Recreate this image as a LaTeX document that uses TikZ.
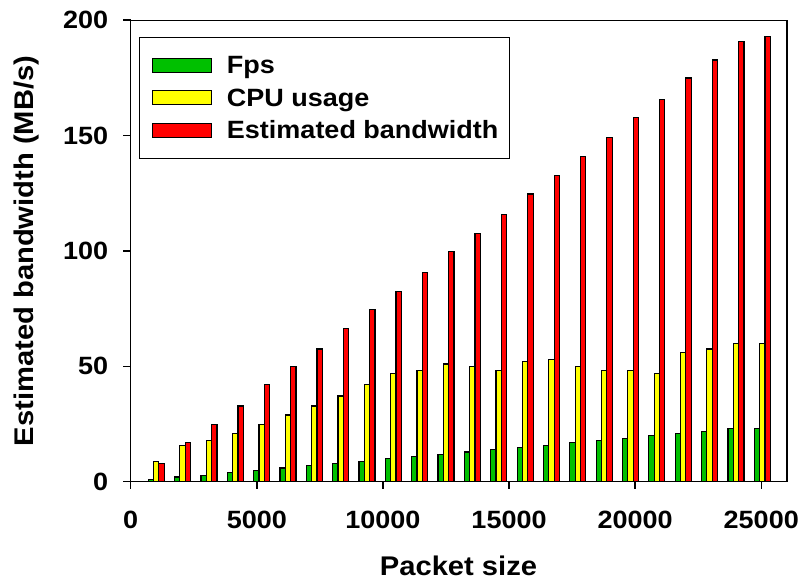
\documentclass[tikz,border=0pt]{standalone}
\usepackage{fontspec}
\setmainfont{Liberation Sans}[FakeStretch=1.08]
\definecolor{barG}{RGB}{0,192,0}
\definecolor{barY}{RGB}{255,255,0}
\definecolor{barR}{RGB}{255,0,0}
\begin{document}
\begin{tikzpicture}[x=0.75pt,y=-0.75pt,
  axisline/.style={line width=1.1pt, line cap=rect},
  bar/.style={draw=black, line width=0.9pt},
  ticklab/.style={font=\fontsize{18.75pt}{20pt}\selectfont\bfseries, inner sep=0pt},
  titlelab/.style={font=\fontsize{20.25pt}{22pt}\selectfont\bfseries, inner sep=0pt},
  leglab/.style={font=\fontsize{18.75pt}{20pt}\selectfont\bfseries, inner sep=0pt, anchor=base west}]
\useasboundingbox[fill=white] (0,0) rectangle (806,585);
% bars
\foreach \g/\yv/\r [count=\k] in {
 1/8.8/7.8, 2/15.8/17.1, 2.7/17.8/24.9, 3.9/21/32.8, 5/24.9/42, 5.9/28.9/50,
 6.9/32.8/57.5, 8/37.1/66.4, 8.9/42/74.7, 9.9/47/82.5, 11/48/90.7, 11.9/51/99.6,
 12.9/49.8/107.6, 14/48/115.8, 14.8/51.9/124.6, 15.8/52.9/132.6, 17/49.8/141, 17.8/48/149,
 18.8/48/157.7, 19.9/46.8/165.6, 20.8/55.8/174.9, 21.8/57.5/182.7, 23/59.8/190.6, 23/60/192.8}{
  \pgfmathsetmacro{\cx}{156.2+(\k-1)*26.35}
  \pgfmathsetmacro{\gy}{481.7-\g*2.3085}
  \pgfmathsetmacro{\yy}{481.7-\yv*2.3085}
  \pgfmathsetmacro{\ry}{481.7-\r*2.3085}
  \draw[bar, fill=barG] (\cx-8,481.7) rectangle (\cx-2.67,\gy);
  \draw[bar, fill=barY] (\cx-2.67,481.7) rectangle (\cx+2.67,\yy);
  \draw[bar, fill=barR] (\cx+2.67,481.7) rectangle (\cx+8,\ry);
}
% frame and axes
\coordinate (o) at (130.7,481.7);
\coordinate (tl) at (130.7,20.7);
\coordinate (tr) at (787,20.7);
\coordinate (br) at (787,481.7);
\draw[axisline] (o) -- (tl) -- (tr) -- (br) -- cycle;
% x ticks
\foreach \v/\lab in {0/0,5/5000,10/10000,15/15000,20/20000,25/25000}{
  \pgfmathsetmacro{\px}{130.7+\v*25.222}
  \draw[axisline] (\px,481.7) -- (\px,488.5);
  \node[ticklab, anchor=base] (xt\v) at (\px,528.3) {\lab};
}
% y ticks
\foreach \v in {0,50,...,200}{
  \pgfmathsetmacro{\py}{481.7-\v*2.3085}
  \draw[axisline] (123.5,\py) -- (130.7,\py);
  \node[ticklab, anchor=east] (yt\v) at (108.5,\py) {\v};
}
% axis titles
\node[titlelab, anchor=base] (xtitle) at (458.5,575.7) {Packet size};
\node[titlelab, anchor=base, rotate=90] (ytitle) at (33.5,251) {Estimated bandwidth (MB/s)};
% legend
\draw[line width=1.1pt, fill=white] (139.3,37.3) rectangle (509.3,158.3);
\draw[bar, fill=barG] (152.7,58.7) rectangle (211.7,72.7);
\draw[bar, fill=barY] (152.7,90.7) rectangle (211.7,104.7);
\draw[bar, fill=barR] (152.7,123.3) rectangle (211.7,137.3);
\node[leglab] (l1) at (226.7,74) {Fps};
\node[leglab] (l2) at (226.7,106) {CPU usage};
\node[leglab] (l3) at (226.7,138.3) {Estimated bandwidth};
\end{tikzpicture}
\end{document}
